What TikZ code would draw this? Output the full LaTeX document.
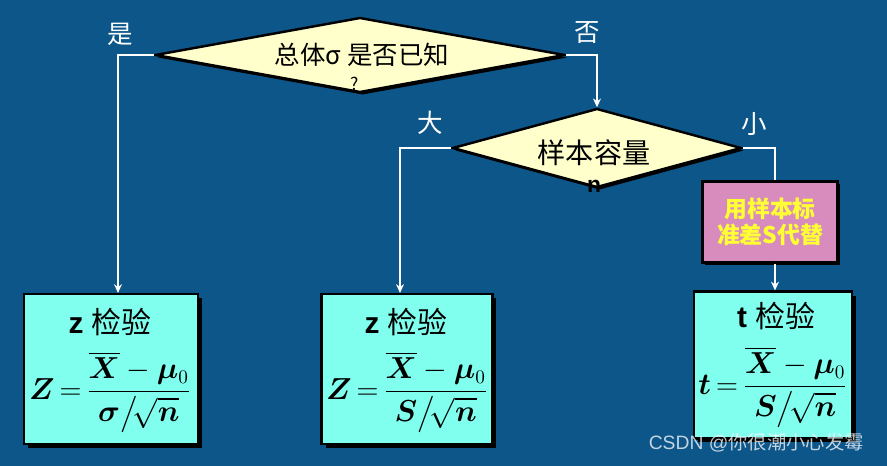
\documentclass[tikz,border=0pt]{standalone}
\usepackage{amsmath,bm}
\usepackage{fontspec}
\setmainfont{Liberation Sans}
\newfontfamily\cjk{Noto Sans CJK SC}
\usetikzlibrary{positioning, arrows.meta, shapes.geometric, shadows}
\definecolor{bgblue}{RGB}{12, 86, 138}
\definecolor{decfill}{RGB}{255, 255, 204}
\definecolor{testfill}{RGB}{128, 255, 238}
\definecolor{subfill}{RGB}{216, 140, 190}
\definecolor{subtext}{RGB}{255, 255, 51}
\newcommand{\tightmath}{\thickmuskip=3mu\medmuskip=4mu}

\begin{document}
\begin{tikzpicture}[x=0.02cm, y=-0.02cm,
    decision/.style={diamond, draw=black, line width=1.4pt, fill=decfill, inner sep=0pt,
      drop shadow={shadow xshift=0.05cm, shadow yshift=-0.05cm, fill=black, opacity=1}},
    testbox/.style={rectangle, draw=black, line width=1.2pt, fill=testfill, inner sep=0pt,
      drop shadow={shadow xshift=0.08cm, shadow yshift=-0.08cm, fill=black, opacity=1}},
    flow/.style={draw=white, line width=1.1pt, -{Stealth[length=5pt, width=4.5pt]}},
    branch/.style={text=white, font=\cjk\fontsize{14.5}{16}\selectfont},
    title/.style={font=\fontsize{17}{19}\selectfont, inner sep=1pt},
    formula/.style={font=\fontsize{16}{19}\selectfont\tightmath, inner sep=1pt}]
        \fill[bgblue] (0,0) rectangle (887,466);
        \useasboundingbox (0,0) rectangle (887,466);
        % decisions
        \node[decision, minimum width=8.2cm, minimum height=1.5cm] (known) at (360,55) {};
        \node[font=\cjk\fontsize{14.5}{16}\selectfont] (knowntext) at (362,55) {总体σ 是否已知};
        \node[font=\cjk\fontsize{10}{12}\selectfont, inner sep=0pt] (knownmark) at (355,84) {?};
        \node[decision, minimum width=5.78cm, minimum height=1.58cm] (size) at (597,148) {};
        \node[font=\cjk\fontsize{16}{18}\selectfont] (sizetext) at (594,153) {样本容量};
        \node[font=\bfseries\fontsize{13}{15}\selectfont, inner sep=0pt] (sizen) at (594,186) {n};
        % substitute box
        \node[rectangle, draw=black, line width=1.6pt, fill=subfill, minimum width=2.7cm, minimum height=1.62cm,
              drop shadow={shadow xshift=0.05cm, shadow yshift=-0.05cm, fill=black, opacity=1},
              align=center, text=subtext, font=\cjk\bfseries\fontsize{13}{14.5}\selectfont] (subst) at (770,222)
              {用样本标\\准差S代替};
        % test boxes
        \node[testbox, minimum width=3.48cm, minimum height=3cm] (ztestA) at (111,369) {};
        \node[title] (ztestAtitle) at (110,322) {\textbf{z} {\cjk 检验}};
        \node[formula] (ztestAformula) at (110,392)
              {$\bm{Z} = \dfrac{\bm{\overline{X}} - \bm{\mu}_0}{\bm{\sigma}\big/\!\sqrt{\bm{n}}}$};
        \node[testbox, minimum width=3.42cm, minimum height=3cm] (ztestB) at (407,369) {};
        \node[title] (ztestBtitle) at (406,322) {\textbf{z} {\cjk 检验}};
        \node[formula] (ztestBformula) at (407,392)
              {$\bm{Z} = \dfrac{\bm{\overline{X}} - \bm{\mu}_0}{\bm{S}\big/\!\sqrt{\bm{n}}}$};
        \node[testbox, minimum width=3.16cm, minimum height=2.94cm] (ttest) at (773,365) {};
        \node[title] (ttesttitle) at (776,316) {\textbf{t} {\cjk 检验}};
        \node[formula] (ttestformula) at (773,387)
              {$\bm{t} = \dfrac{\bm{\overline{X}} - \bm{\mu}_0}{\bm{S}\big/\!\sqrt{\bm{n}}}$};
        % connectors
        \draw[flow] (known.west) -| ([xshift=0.14cm]ztestA.north);
        \draw[flow] (known.east) -| (size.north);
        \draw[flow] (size.west) -| ([xshift=-0.14cm]ztestB.north);
        \draw[draw=white, line width=1.1pt] (size.east) -| ([xshift=0.1cm]subst.north);
        \draw[flow] ([xshift=0.1cm]subst.south) -- ([xshift=0.1cm]subst.south |- ttest.north);
        % branch labels
        \node[branch] (yes) at (120,34) {是};
        \node[branch] (no) at (587,33) {否};
        \node[branch] (large) at (430,123) {大};
        \node[branch] (small) at (754,124) {小};
        \node[text=white, opacity=0.75, font=\fontsize{11}{13}\selectfont, anchor=east] (mark) at (870,443)
              {CSDN @{\cjk 你很潮小心发霉}};
\end{tikzpicture}
\end{document}
